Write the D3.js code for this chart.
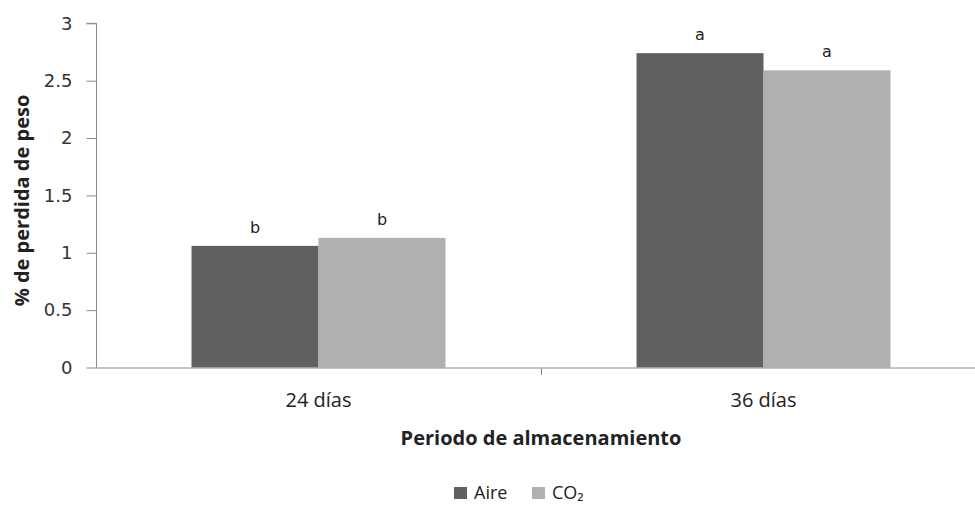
<!DOCTYPE html>
<html>
<head>
<meta charset="utf-8">
<script src="https://cdn.jsdelivr.net/npm/d3@7"></script>
<style>
  html, body { margin: 0; padding: 0; background: #fff; }
  svg { display: block; }
</style>
</head>
<body>
<svg id="chart" width="975" height="510"></svg>
<script>
// Weight loss (%) by storage period and atmosphere
const periods = ["24 días", "36 días"];
const seriesNames = ["Aire", "CO₂"];
const aireValues = [1.06, 2.74];
const co2Values = [1.13, 2.59];
const aireLetters = ["b", "a"];
const co2Letters = ["b", "a"];
const yTicks = [0, 0.5, 1, 1.5, 2, 2.5, 3];
const colors = ["#606060", "#b0b0b0"];

const svg = d3.select("#chart");
const W = 975, H = 510;
const plotLeft = 96, plotRight = 986, plotTop = 23.3, plotBottom = 367.5;

const x = d3.scaleBand().domain(periods).range([plotLeft, plotRight]).paddingInner(0).paddingOuter(0);
const x1 = d3.scaleBand().domain(seriesNames).range([0, x.bandwidth()]).paddingInner(0).paddingOuter(0.752);
const y = d3.scaleLinear().domain([0, 3]).range([plotBottom, plotTop]);

const rows = periods.map((p, i) => ({
  period: p,
  values: [
    { name: seriesNames[0], v: aireValues[i], letter: aireLetters[i], color: colors[0] },
    { name: seriesNames[1], v: co2Values[i], letter: co2Letters[i], color: colors[1] }
  ]
}));

// Bars
const g = svg.append("g");
const groups = g.selectAll("g.grp").data(rows).join("g")
  .attr("class", "grp")
  .attr("transform", d => `translate(${x(d.period)},0)`);

groups.selectAll("rect").data(d => d.values).join("rect")
  .attr("x", d => x1(d.name))
  .attr("width", x1.bandwidth())
  .attr("y", d => y(d.v))
  .attr("height", d => y(0) - y(d.v))
  .attr("fill", d => d.color);

// Significance letters
groups.selectAll("text.letter").data(d => d.values).join("text")
  .attr("class", "letter")
  .attr("x", d => x1(d.name) + x1.bandwidth() / 2)
  .attr("y", d => y(d.v) - 13)
  .attr("text-anchor", "middle")
  .attr("font-family", "DejaVu Sans, sans-serif")
  .attr("font-size", 16)
  .attr("fill", "#222")
  .text(d => d.letter);

// Y axis
const yAxis = d3.axisLeft(y).tickValues(yTicks).tickSize(10).tickPadding(14).tickFormat(d3.format("~g"));
const yg = svg.append("g").attr("transform", `translate(${plotLeft + 0.5},0)`).call(yAxis);
yg.select(".domain").attr("stroke", "#8a8a8a").attr("d", `M-10,${y(3)}H0V${y(0)}`);
yg.selectAll(".tick line").attr("stroke", "#8a8a8a");
yg.selectAll(".tick text")
  .attr("font-family", "DejaVu Sans, sans-serif")
  .attr("font-size", 18)
  .attr("fill", "#333");

// X axis
const xAxis = d3.axisBottom(x).tickSize(0).tickPadding(25);
const xg = svg.append("g").attr("transform", `translate(0,${plotBottom + 0.5})`).call(xAxis);
xg.select(".domain").attr("stroke", "#8a8a8a").attr("d", `M${plotLeft},0H${W}`);
xg.selectAll(".tick text")
  .attr("font-family", "Open Sans, sans-serif")
  .attr("font-size", 20)
  .attr("fill", "#222");
// Category boundary marks
const bounds = periods.slice(1).map(p => x(p));
xg.selectAll("line.sep").data(bounds).join("line")
  .attr("class", "sep")
  .attr("x1", d => d + 0.5).attr("x2", d => d + 0.5)
  .attr("y1", 0).attr("y2", 7)
  .attr("stroke", "#8a8a8a");

// Axis titles
svg.append("text")
  .attr("x", 541)
  .attr("y", 445)
  .attr("text-anchor", "middle")
  .attr("font-family", "Open Sans, sans-serif")
  .attr("font-weight", "bold")
  .attr("font-size", 20)
  .attr("fill", "#222")
  .text("Periodo de almacenamiento");

svg.append("text")
  .attr("transform", "translate(29,200.5) rotate(-90)")
  .attr("text-anchor", "middle")
  .attr("font-family", "Open Sans, sans-serif")
  .attr("font-weight", "bold")
  .attr("font-size", 20)
  .attr("fill", "#222")
  .text("% de perdida de peso");

// Legend
const legend = svg.append("g").attr("transform", "translate(454,499)");
const items = [
  { name: seriesNames[0], color: colors[0], dx: 0 },
  { name: seriesNames[1], color: colors[1], dx: 78 }
];
const li = legend.selectAll("g").data(items).join("g").attr("transform", d => `translate(${d.dx},0)`);
li.append("rect").attr("x", 0).attr("y", -12).attr("width", 13).attr("height", 12).attr("fill", d => d.color);
li.append("text")
  .attr("x", 20).attr("y", 0)
  .attr("font-family", "Open Sans, sans-serif")
  .attr("font-size", 18)
  .attr("fill", "#222")
  .text(d => d.name);
</script>
</body>
</html>
